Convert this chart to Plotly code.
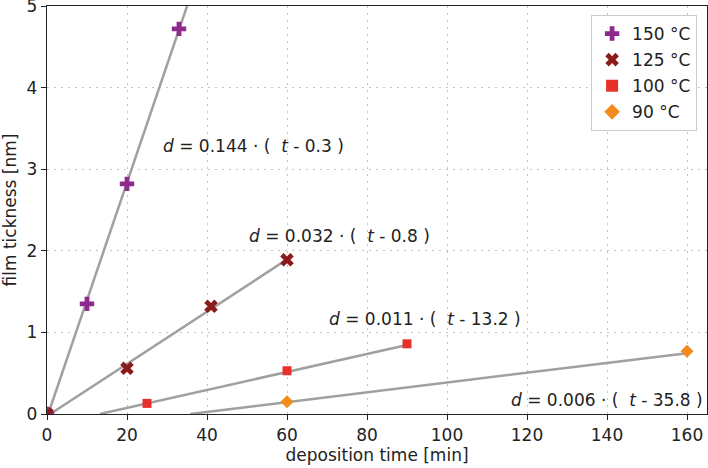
import plotly.graph_objects as go

# measured data
labels = ["150 °C", "125 °C", "100 °C", "90 °C"]
t150 = [0, 10, 20, 33]
d150 = [0.0, 1.35, 2.82, 4.72]
t125 = [0, 20, 41, 60]
d125 = [0.0, 0.56, 1.32, 1.89]
t100 = [25, 60, 90]
d100 = [0.13, 0.53, 0.86]
t90 = [60, 160]
d90 = [0.15, 0.77]

# fit parameters  d = k * (t - t0)
fit_k = [0.144, 0.032, 0.011, 0.006]
fit_t0 = [0.3, 0.8, 13.2, 35.8]
fit_tend = [40, 60, 90, 160]
fit_text_x = [28.5, 50, 70, 115.5]
fit_text_y = [3.28, 2.18, 1.16, 0.17]

colors = ["#8E2A8E", "#8B1A1A", "#E8302A", "#F28A1E"]
symbols = ["cross", "x", "square", "diamond"]
sizes = [12, 12, 9, 10]

FONT = "DejaVu Sans"
FS = 17
fig = go.Figure()

# fit lines
for k, t0, te in zip(fit_k, fit_t0, fit_tend):
    ts = max(t0, 0)
    fig.add_trace(go.Scatter(x=[ts, te], y=[k * (ts - t0), k * (te - t0)],
                             mode="lines", line=dict(color="#a0a0a0", width=2.5),
                             showlegend=False, hoverinfo="skip"))

series = [(t150, d150), (t125, d125), (t100, d100), (t90, d90)]
for i, ((tx, dy), lab, c, s, sz) in enumerate(zip(series, labels, colors, symbols, sizes)):
    fig.add_trace(go.Scatter(x=tx, y=dy, mode="markers", name=lab, legendgroup=f"g{i}",
                             marker=dict(color=c, symbol=s, size=sz, line=dict(width=0))))

for k, t0, xx, yy in zip(fit_k, fit_t0, fit_text_x, fit_text_y):
    fig.add_annotation(x=xx, y=yy, xanchor="left", yanchor="middle", showarrow=False,
                       text=f"<i>d</i> = {k:.3f} · (  <i>t</i> - {t0:.1f} )",
                       font=dict(family=FONT, size=FS, color="#222222"), bgcolor="rgba(0,0,0,0)")

axis_common = dict(showline=True, linecolor="#222222", linewidth=1.3, mirror=True,
                   ticks="outside", ticklen=5, tickcolor="#222222", automargin=False,
                   ticklabeloverflow="allow",
                   showgrid=True, gridcolor="#c4c4c4", griddash="2px,5px", gridwidth=1.2,
                   zeroline=False, tickfont=dict(family=FONT, size=FS, color="#222222"))

fig.update_layout(
    width=708, height=468,
    margin=dict(l=47, r=1, t=6, b=54),
    paper_bgcolor="white", plot_bgcolor="white",
    font=dict(family=FONT, size=FS, color="#222222"),
    xaxis=dict(range=[0, 165], tickvals=[0, 20, 40, 60, 80, 100, 120, 140, 160],
               title=dict(text="deposition time [min]", font=dict(size=FS), standoff=2),
               **axis_common),
    yaxis=dict(range=[0, 5], tickvals=[0, 1, 2, 3, 4, 5],
               title=dict(text="film tickness [nm]", font=dict(size=FS), standoff=6),
               **axis_common),
    legend=dict(x=0.985, y=0.978, xanchor="right", yanchor="top",
                bgcolor="rgba(255,255,255,0.9)", bordercolor="#cccccc", borderwidth=1,
                font=dict(family=FONT, size=FS), itemsizing="constant",
                tracegroupgap=1),
)

fig.write_html("out.html", config={"displayModeBar": False},
               post_script="document.body.style.margin='0';document.body.style.overflow='hidden';")
